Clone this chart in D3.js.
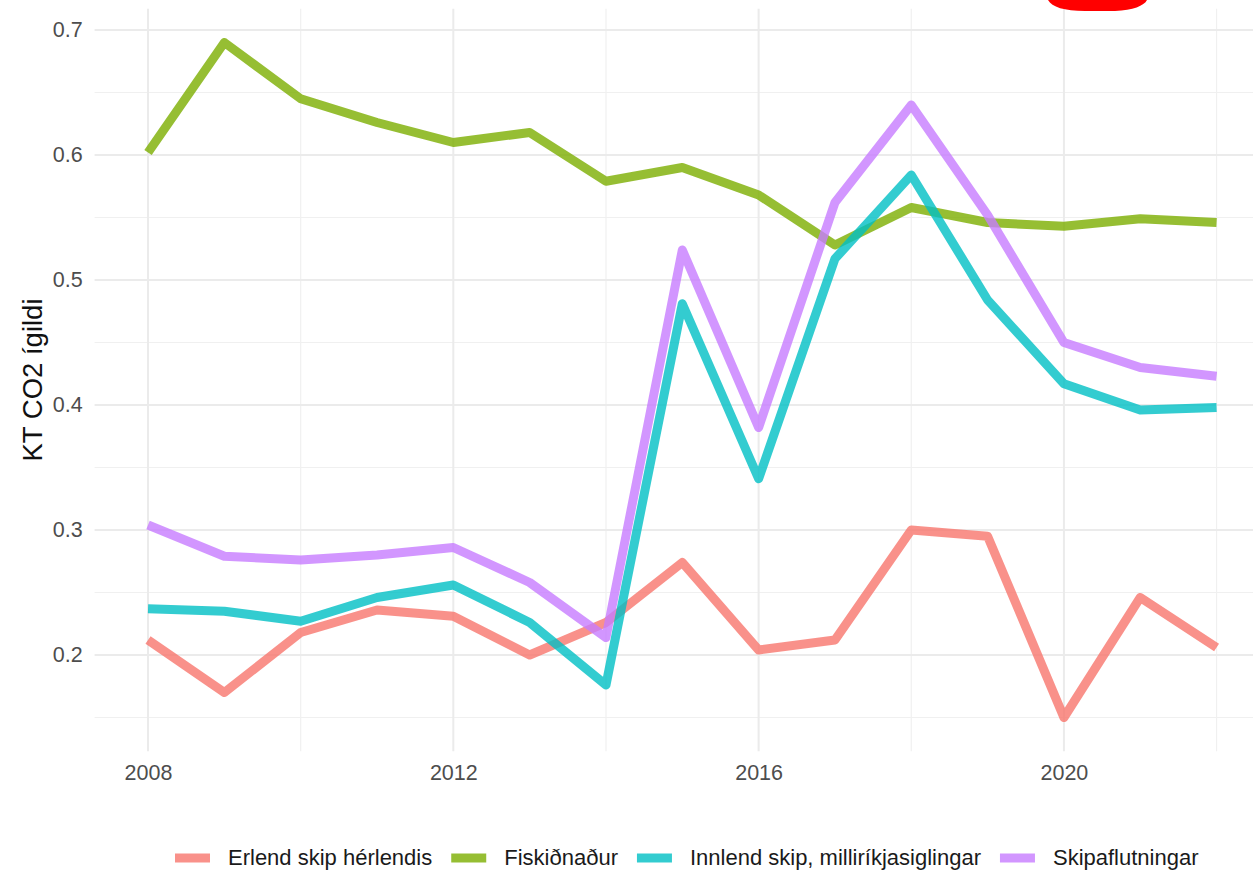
<!DOCTYPE html>
<html>
<head>
<meta charset="utf-8">
<script src="https://cdn.jsdelivr.net/npm/d3@7"></script>
<style>
  body { margin: 0; background: #fff; }
  svg { display: block; font-family: "Liberation Sans", Arial, Helvetica, sans-serif; }
</style>
</head>
<body>
<script>
// CO2 per year, four ship categories
const years = [2008, 2009, 2010, 2011, 2012, 2013, 2014, 2015, 2016, 2017, 2018, 2019, 2020, 2021, 2022];
const seriesNames = ["Erlend skip hérlendis", "Fiskiðnaður", "Innlend skip, milliríkjasiglingar", "Skipaflutningar"];
const erlend = [0.212, 0.170, 0.218, 0.236, 0.231, 0.200, 0.226, 0.274, 0.204, 0.212, 0.300, 0.295, 0.150, 0.246, 0.206];
const fiskidnadur = [0.602, 0.690, 0.645, 0.626, 0.610, 0.618, 0.579, 0.590, 0.568, 0.528, 0.558, 0.546, 0.543, 0.549, 0.546];
const innlend = [0.237, 0.235, 0.227, 0.246, 0.256, 0.226, 0.176, 0.481, 0.341, 0.517, 0.584, 0.484, 0.417, 0.396, 0.398];
const skipa = [0.304, 0.279, 0.276, 0.280, 0.286, 0.258, 0.214, 0.524, 0.382, 0.562, 0.640, 0.552, 0.450, 0.430, 0.423];
const colors = ["#F8766D", "#7CAE00", "#00BFC4", "#C77CFF"];
const yMajor = [0.2, 0.3, 0.4, 0.5, 0.6, 0.7];
const yMinor = [0.15, 0.25, 0.35, 0.45, 0.55, 0.65];
const xMajor = [2008, 2012, 2016, 2020];
const xMinor = [2010, 2014, 2018, 2022];

const width = 1253, height = 871;
const series = [erlend, fiskidnadur, innlend, skipa].map((vals, i) => ({
  name: seriesNames[i], color: colors[i], values: vals.map((v, j) => ({ year: years[j], value: v }))
}));

// ggplot-style 5% expansion
const xExt = d3.extent(years), xPad = (xExt[1] - xExt[0]) * 0.05;
const allVals = [].concat(erlend, fiskidnadur, innlend, skipa);
const yExt = d3.extent(allVals), yPad = (yExt[1] - yExt[0]) * 0.05;

const panel = { left: 94.6, right: 1270, top: 8.75, bottom: 751.25 };
const x = d3.scaleLinear().domain([xExt[0] - xPad, xExt[1] + xPad]).range([panel.left, panel.right]);
const y = d3.scaleLinear().domain([yExt[0] - yPad, yExt[1] + yPad]).range([panel.bottom, panel.top]);

const svg = d3.select("body").append("svg")
  .attr("width", width)
  .attr("height", height);

// grid
const grid = svg.append("g");
grid.selectAll(".ymin").data(yMinor).enter().append("line")
  .attr("x1", panel.left).attr("x2", panel.right)
  .attr("y1", d => y(d)).attr("y2", d => y(d))
  .attr("stroke", "#f0f0f0").attr("stroke-width", 1.2);
grid.selectAll(".xmin").data(xMinor).enter().append("line")
  .attr("x1", d => x(d)).attr("x2", d => x(d))
  .attr("y1", panel.top).attr("y2", panel.bottom)
  .attr("stroke", "#f0f0f0").attr("stroke-width", 1.2);
grid.selectAll(".ymaj").data(yMajor).enter().append("line")
  .attr("x1", panel.left).attr("x2", panel.right)
  .attr("y1", d => y(d)).attr("y2", d => y(d))
  .attr("stroke", "#ebebeb").attr("stroke-width", 2);
grid.selectAll(".xmaj").data(xMajor).enter().append("line")
  .attr("x1", d => x(d)).attr("x2", d => x(d))
  .attr("y1", panel.top).attr("y2", panel.bottom)
  .attr("stroke", "#ebebeb").attr("stroke-width", 2);

// axes (labels only, like theme_minimal)
const yAxis = svg.append("g")
  .attr("transform", `translate(${panel.left},0)`)
  .call(d3.axisLeft(y).tickValues(yMajor).tickFormat(d3.format(".1f")).tickSize(0).tickPadding(12));
yAxis.select(".domain").remove();
yAxis.selectAll("text").attr("fill", "#4d4d4d").style("font-size", "21.5px");

const xAxis = svg.append("g")
  .attr("transform", `translate(0,${panel.bottom})`)
  .call(d3.axisBottom(x).tickValues(xMajor).tickFormat(d3.format("d")).tickSize(0).tickPadding(13));
xAxis.select(".domain").remove();
xAxis.selectAll("text").attr("fill", "#4d4d4d").style("font-size", "21.5px");

svg.append("text")
  .attr("transform", `translate(42,${(panel.top + panel.bottom) / 2}) rotate(-90)`)
  .attr("text-anchor", "middle")
  .attr("fill", "#111")
  .style("font-size", "27.5px")
  .text("KT CO2 ígildi");

// lines
const line = d3.line().x(d => x(d.year)).y(d => y(d.value));
svg.append("g").selectAll("path").data(series).enter().append("path")
  .attr("d", d => line(d.values))
  .attr("fill", "none")
  .attr("stroke", d => d.color)
  .attr("stroke-opacity", 0.8)
  .attr("stroke-width", 9)
  .attr("stroke-linejoin", "round")
  .attr("stroke-linecap", "butt");

// legend (kept just inside the bottom edge)
const legend = svg.append("g").attr("transform", "translate(0,857)");
let lx = 175;
series.forEach(s => {
  legend.append("line")
    .attr("x1", lx).attr("x2", lx + 35).attr("y1", 1).attr("y2", 1)
    .attr("stroke", s.color).attr("stroke-opacity", 0.8).attr("stroke-width", 9);
  const t = legend.append("text")
    .attr("x", lx + 53).attr("y", 0).attr("dy", "0.35em")
    .attr("fill", "#1a1a1a")
    .style("font-size", "22px")
    .text(s.name);
  lx += 53 + t.node().getComputedTextLength() + 19;
});

// red marker scribble at the top edge
svg.append("path")
  .attr("d", "M1048,0 C1052,7 1064,11 1085,11 L1115,11 C1133,10 1144,6 1147,0 Z")
  .attr("fill", "#ff0000");
</script>
</body>
</html>
